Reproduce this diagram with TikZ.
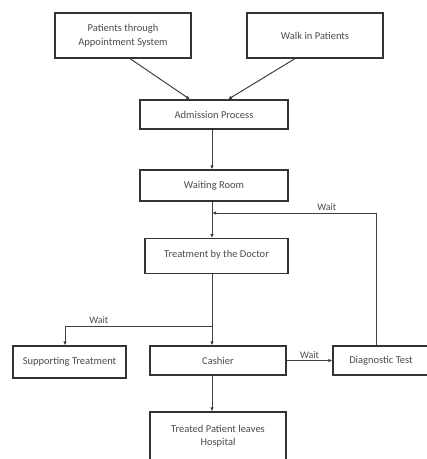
\documentclass[tikz,border=0pt]{standalone}
\usepackage{fontspec}
\setmainfont{Carlito}
\usetikzlibrary{arrows.meta}

\begin{document}
\begin{tikzpicture}[x=1pt,y=-1pt,
    box/.style={draw=black!80,line width=1.2pt,fill=white,text=black!70,
      font=\fontsize{10.5}{13.5}\selectfont,align=center,inner sep=0pt},
    flow/.style={draw=black!75,line width=1pt,-{Latex[length=4pt,width=3.5pt]}},
    wlabel/.style={text=black!70,font=\fontsize{10}{12}\selectfont,above,inner sep=1.5pt}]
    \useasboundingbox (0,0) rectangle (427,459);
    % boxes
    \node[box,minimum width=136pt,minimum height=45pt] (appt) at (123,35.5){Patients through\\Appointment System};
    \node[box,minimum width=136pt,minimum height=45pt] (walkin) at (315,35.5){Walk in Patients};
    \node[box,minimum width=148pt,minimum height=29pt] (admit) at (214,114.5){Admission Process};
    \node[box,minimum width=148pt,minimum height=31pt] (waitroom) at (214,185.5){Waiting Room};
    \node[box,minimum width=143pt,minimum height=35pt,anchor=north] (doctor) at (216.5,238){\raisebox{4pt}{Treatment by the Doctor}};
    \node[box,minimum width=113pt,minimum height=32pt] (support) at (69.5,362){Supporting Treatment};
    \node[box,minimum width=136pt,minimum height=29pt] (cashier) at (218,360.5){Cashier};
    \node[box,minimum width=96pt,minimum height=29pt] (diag) at (381,360.5){Diagnostic Test};
    \node[box,minimum width=136pt,minimum height=48pt] (leave) at (218,436){Treated Patient leaves\\Hospital};
    % helper points
    \coordinate (trunk) at (212,0);
    \coordinate (fb) at (376,0);
    \coordinate (j1) at (212,213);
    \coordinate (j2) at (212,326);
    \coordinate (suptop) at ([xshift=-4.5pt]support.north);
    % connectors
    \draw[flow] ([xshift=7pt]appt.south) -- ([xshift=-24pt]admit.north);
    \draw[flow] ([xshift=-20pt]walkin.south) -- ([xshift=14pt]admit.north);
    \draw[flow] (admit.south -| trunk) -- (waitroom.north -| trunk);
    \draw[flow] (waitroom.south -| trunk) -- (doctor.north -| trunk);
    \draw[flow] (diag.north -| fb) -- (fb |- j1) -- node[wlabel,pos=.3]{Wait} (j1);
    \draw[flow] (doctor.south -| trunk) -- (cashier.north -| trunk);
    \draw[flow] (j2) -- node[wlabel,pos=.77]{Wait} (j2 -| suptop) -- (suptop);
    \draw[flow] (cashier.east) -- node[wlabel]{Wait} (diag.west);
    \draw[flow] (cashier.south -| trunk) -- (leave.north -| trunk);
\end{tikzpicture}
\end{document}
